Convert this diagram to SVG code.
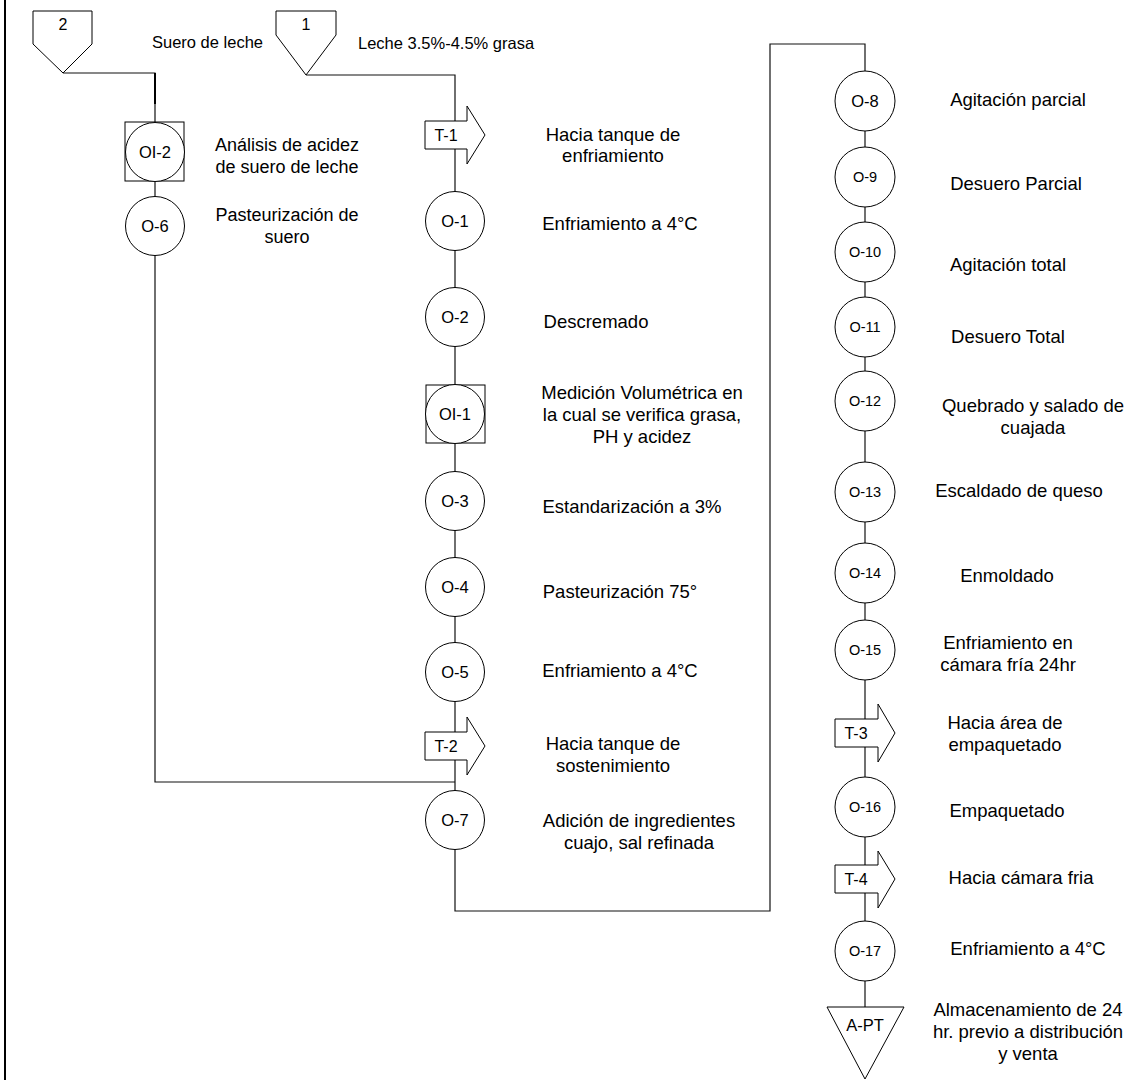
<svg xmlns="http://www.w3.org/2000/svg" width="1132" height="1080" viewBox="0 0 1132 1080">
<style>
.s{fill:#fff;stroke:#000;stroke-width:1}
.c{fill:none;stroke:#111;stroke-width:1.2}
text{font-family:"Liberation Sans",Arial,sans-serif;fill:#000;dominant-baseline:central;text-anchor:middle}
.l{font-size:18.5px}
.lf{font-size:18px}
.n{font-size:16.5px}
.m{font-size:14.5px}
.t{font-size:16px}
.sm{font-size:16.5px;text-anchor:start}
</style>
<rect width="1132" height="1080" fill="#fff"/>
<g id="connectors">
<line x1="5" y1="0" x2="5" y2="1080" stroke="#000" stroke-width="2"/>
<polyline class="c" points="63,73 155,73 155,122"/>
<line x1="155" y1="73" x2="155" y2="104" stroke="#000" stroke-width="2"/>
<line class="c" x1="155" y1="181" x2="155" y2="197"/>
<polyline class="c" points="155,255 155,782 455,782"/>
<polyline class="c" points="306,75 455,75 455,911 770,911 770,44 865,44 865,71"/>
<line class="c" x1="865" y1="131" x2="865" y2="1008"/>
</g>
<g id="n2"><polygon class="s" points="33,11 92,11 92,44 63,73 33,44"/><text class="t" x="63" y="24">2</text></g>
<g id="n1"><polygon class="s" points="276,11 336,11 336,35 306,75 276,35"/><text class="t" x="306" y="24">1</text></g>
<text class="sm" x="152" y="42">Suero de leche</text>
<text class="sm" x="358" y="43">Leche 3.5%-4.5% grasa</text>
<g id="OI-2"><rect class="s" x="125" y="122" width="59" height="59"/><circle class="s" cx="155" cy="152" r="29.5"/><text class="n" x="155" y="152">OI-2</text></g>
<text class="lf" x="287" y="145">Análisis de acidez</text>
<text class="lf" x="287" y="167">de suero de leche</text>
<g id="O-6"><circle class="s" cx="155" cy="226" r="29.5"/><text class="n" x="155" y="226">O-6</text></g>
<text class="lf" x="287" y="215">Pasteurización de</text>
<text class="lf" x="287" y="237">suero</text>
<g id="T-1"><polygon class="s" points="425,121 467,121 467,106 485,135 467,164 467,149 425,149"/><text class="t" x="446" y="135">T-1</text></g>
<text class="l" x="613" y="134">Hacia tanque de</text>
<text class="l" x="613" y="155">enfriamiento</text>
<g id="O-1"><circle class="s" cx="455" cy="221" r="29.5"/><text class="n" x="455" y="221">O-1</text></g>
<text class="l" x="620" y="223">Enfriamiento a 4°C</text>
<g id="O-2"><circle class="s" cx="455" cy="317" r="29.5"/><text class="n" x="455" y="317">O-2</text></g>
<text class="l" x="596" y="321">Descremado</text>
<g id="OI-1"><rect class="s" x="426" y="385" width="59" height="58"/><circle class="s" cx="455" cy="414" r="29.5"/><text class="n" x="455" y="414">OI-1</text></g>
<text class="l" x="642" y="392">Medición Volumétrica en</text>
<text class="l" x="642" y="414">la cual se verifica grasa,</text>
<text class="l" x="642" y="436">PH y acidez</text>
<g id="O-3"><circle class="s" cx="455" cy="501" r="29.5"/><text class="n" x="455" y="501">O-3</text></g>
<text class="l" x="632" y="506">Estandarización a 3%</text>
<g id="O-4"><circle class="s" cx="455" cy="587" r="29.5"/><text class="n" x="455" y="587">O-4</text></g>
<text class="l" x="620" y="591">Pasteurización 75°</text>
<g id="O-5"><circle class="s" cx="455" cy="672" r="29.5"/><text class="n" x="455" y="672">O-5</text></g>
<text class="l" x="620" y="670">Enfriamiento a 4°C</text>
<g id="T-2"><polygon class="s" points="425,732 467,732 467,717 485,746 467,775 467,760 425,760"/><text class="t" x="446" y="746">T-2</text></g>
<text class="l" x="613" y="743">Hacia tanque de</text>
<text class="l" x="613" y="765">sostenimiento</text>
<g id="O-7"><circle class="s" cx="455" cy="820" r="29.5"/><text class="n" x="455" y="820">O-7</text></g>
<text class="l" x="639" y="820">Adición de ingredientes</text>
<text class="l" x="639" y="842">cuajo, sal refinada</text>
<g id="O-8"><circle class="s" cx="865" cy="101" r="30"/><text class="n" x="865" y="101">O-8</text></g>
<text class="l" x="1018" y="99">Agitación parcial</text>
<g id="O-9"><circle class="s" cx="865" cy="177" r="30"/><text class="m" x="865" y="177">O-9</text></g>
<text class="l" x="1016" y="183">Desuero Parcial</text>
<g id="O-10"><circle class="s" cx="865" cy="252" r="30"/><text class="m" x="865" y="252">O-10</text></g>
<text class="l" x="1008" y="264">Agitación total</text>
<g id="O-11"><circle class="s" cx="865" cy="327" r="30"/><text class="m" x="865" y="327">O-11</text></g>
<text class="l" x="1008" y="336">Desuero Total</text>
<g id="O-12"><circle class="s" cx="865" cy="401" r="30"/><text class="m" x="865" y="401">O-12</text></g>
<text class="l" x="1033" y="405">Quebrado y salado de</text>
<text class="l" x="1033" y="427">cuajada</text>
<g id="O-13"><circle class="s" cx="865" cy="492" r="30"/><text class="m" x="865" y="492">O-13</text></g>
<text class="l" x="1019" y="490">Escaldado de queso</text>
<g id="O-14"><circle class="s" cx="865" cy="573" r="30"/><text class="m" x="865" y="573">O-14</text></g>
<text class="l" x="1007" y="575">Enmoldado</text>
<g id="O-15"><circle class="s" cx="865" cy="650" r="30"/><text class="m" x="865" y="650">O-15</text></g>
<text class="l" x="1008" y="642">Enfriamiento en</text>
<text class="l" x="1008" y="664">cámara fría 24hr</text>
<g id="T-3"><polygon class="s" points="835,719 878,719 878,704 895,733 878,762 878,747 835,747"/><text class="t" x="856" y="733">T-3</text></g>
<text class="l" x="1005" y="722">Hacia área de</text>
<text class="l" x="1005" y="744">empaquetado</text>
<g id="O-16"><circle class="s" cx="865" cy="807" r="30"/><text class="m" x="865" y="807">O-16</text></g>
<text class="l" x="1007" y="810">Empaquetado</text>
<g id="T-4"><polygon class="s" points="835,865 878,865 878,851 895,879 878,908 878,893 835,893"/><text class="t" x="856" y="879">T-4</text></g>
<text class="l" x="1021" y="877">Hacia cámara fria</text>
<g id="O-17"><circle class="s" cx="865" cy="951" r="30"/><text class="m" x="865" y="951">O-17</text></g>
<text class="l" x="1028" y="948">Enfriamiento a 4°C</text>
<g id="A-PT"><polygon class="s" points="827,1007 904,1007 865,1079"/><text class="n" x="865" y="1025">A-PT</text></g>
<text class="l" x="1028" y="1009">Almacenamiento de 24</text>
<text class="l" x="1028" y="1031">hr. previo a distribución</text>
<text class="l" x="1028" y="1053">y venta</text>
</svg>
